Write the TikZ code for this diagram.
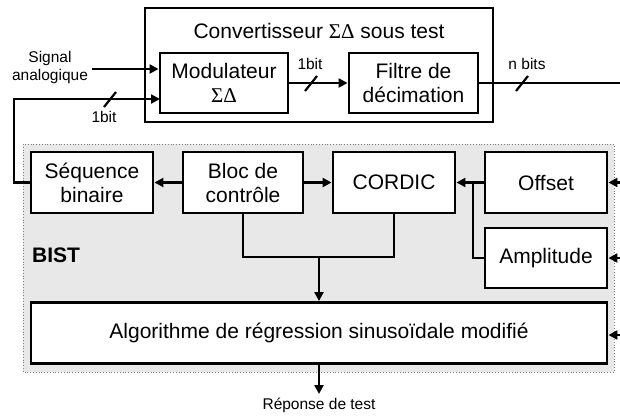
\documentclass[tikz,border=0pt]{standalone}
\usepackage{fontspec}
\setmainfont{Liberation Sans}
\newfontfamily\grk{Liberation Serif}
\usetikzlibrary{arrows.meta,calc}
\begin{document}
\begin{tikzpicture}[x=1pt,y=-1pt,
  box/.style={draw,line width=2.9pt,fill=white,align=center,inner sep=0pt,
    font=\fontsize{21}{24}\selectfont},
  arr/.style={line width=2.5pt,-{Triangle[length=9pt,width=9pt]}},
  wire/.style={line width=2.5pt},
  slash/.style={line width=2.2pt},
  small/.style={font=\fontsize{15.5}{18}\selectfont,align=center,inner sep=0pt}]
\useasboundingbox (0,0) rectangle (620,416);
% BIST background
\draw[gray,dotted,fill=black!9,line width=0.8pt] (23,144) rectangle (614,372);
% Converter outer box
\draw[line width=1.8pt,fill=white] (145,8) rectangle (493,122);
\node[font=\fontsize{21}{24}\selectfont,inner sep=0pt] (title) at (319,31) {Convertisseur {\grk ΣΔ} sous test};
% boxes
\node[box,minimum width=128pt,minimum height=60pt] (mod) at (224,83) {Modulateur\\{\grk ΣΔ}};
\node[box,minimum width=129pt,minimum height=60pt] (filt) at (413.5,83) {Filtre de\\décimation};
\node[box,minimum width=122pt,minimum height=61pt] (seq) at (92,182.5) {Séquence\\binaire};
\node[box,minimum width=120pt,minimum height=61pt] (bloc) at (243,182.5) {Bloc de\\contrôle};
\node[box,minimum width=122pt,minimum height=61pt] (cordic) at (394,182.5) {CORDIC};
\node[box,minimum width=122pt,minimum height=61pt] (offset) at (546,182.5) {Offset};
\node[box,minimum width=122pt,minimum height=60pt] (ampl) at (546,258) {Amplitude};
\node[box,minimum width=576pt,minimum height=61pt] (algo) at (319,333) {Algorithme de régression sinusoïdale modifié};
\node[anchor=west,inner sep=0pt,font=\fontsize{21}{24}\selectfont\bfseries] (bist) at (32,255.5) {BIST};
% labels
\node[small] (sig) at (50,67) {Signal\\analogique};
\node[small] (b1) at (310,64) {1bit};
\node[small] (nb) at (527,64) {n bits};
\node[small] (b2) at (104,117) {1bit};
\node[small] (rep) at (319,405) {Réponse de test};
% coordinates
\coordinate (sigs) at (92,69);
\coordinate (out) at (620,83);
\coordinate (fbx) at (14,182.5);
\coordinate (fbin) at (160,99);
\coordinate (j) at (473,182.5);
\coordinate (m) at (319,257);
\coordinate (repe) at (319,394);
\coordinate (ro) at (620,182.5);
\coordinate (ra) at (620,258);
\coordinate (rg) at (620,335);
\coordinate (s1) at (311,83);
\coordinate (s2) at (522,83);
\coordinate (s3) at (110,99);
% connectors
\draw[arr] (sigs) -- (sigs -| mod.west);
\draw[arr] (seq.west) -- (fbx) |- (fbin);
\draw[arr] (mod.east) -- (filt.west);
\draw[wire] (filt.east) -- (out);
\draw[arr] (bloc.west) -- (seq.east);
\draw[arr] (bloc.east) -- (cordic.west);
\draw[arr] (offset.west) -- (cordic.east);
\draw[wire] (ampl.west) -| (j);
\draw[wire] (bloc.south) |- (m) -| (cordic.south);
\draw[arr] (m) -- (algo.north);
\draw[arr] (algo.south) -- (repe);
\draw[arr] (ro) -- (offset.east);
\draw[arr] (ra) -- (ampl.east);
\draw[arr] (rg) -- (rg -| algo.east);
% slashes
\draw[slash] (s1) +(-6,8) -- +(6,-7);
\draw[slash] (s2) +(-6,8) -- +(6,-7);
\draw[slash] (s3) +(-6,8) -- +(6,-7);
\end{tikzpicture}
\end{document}
